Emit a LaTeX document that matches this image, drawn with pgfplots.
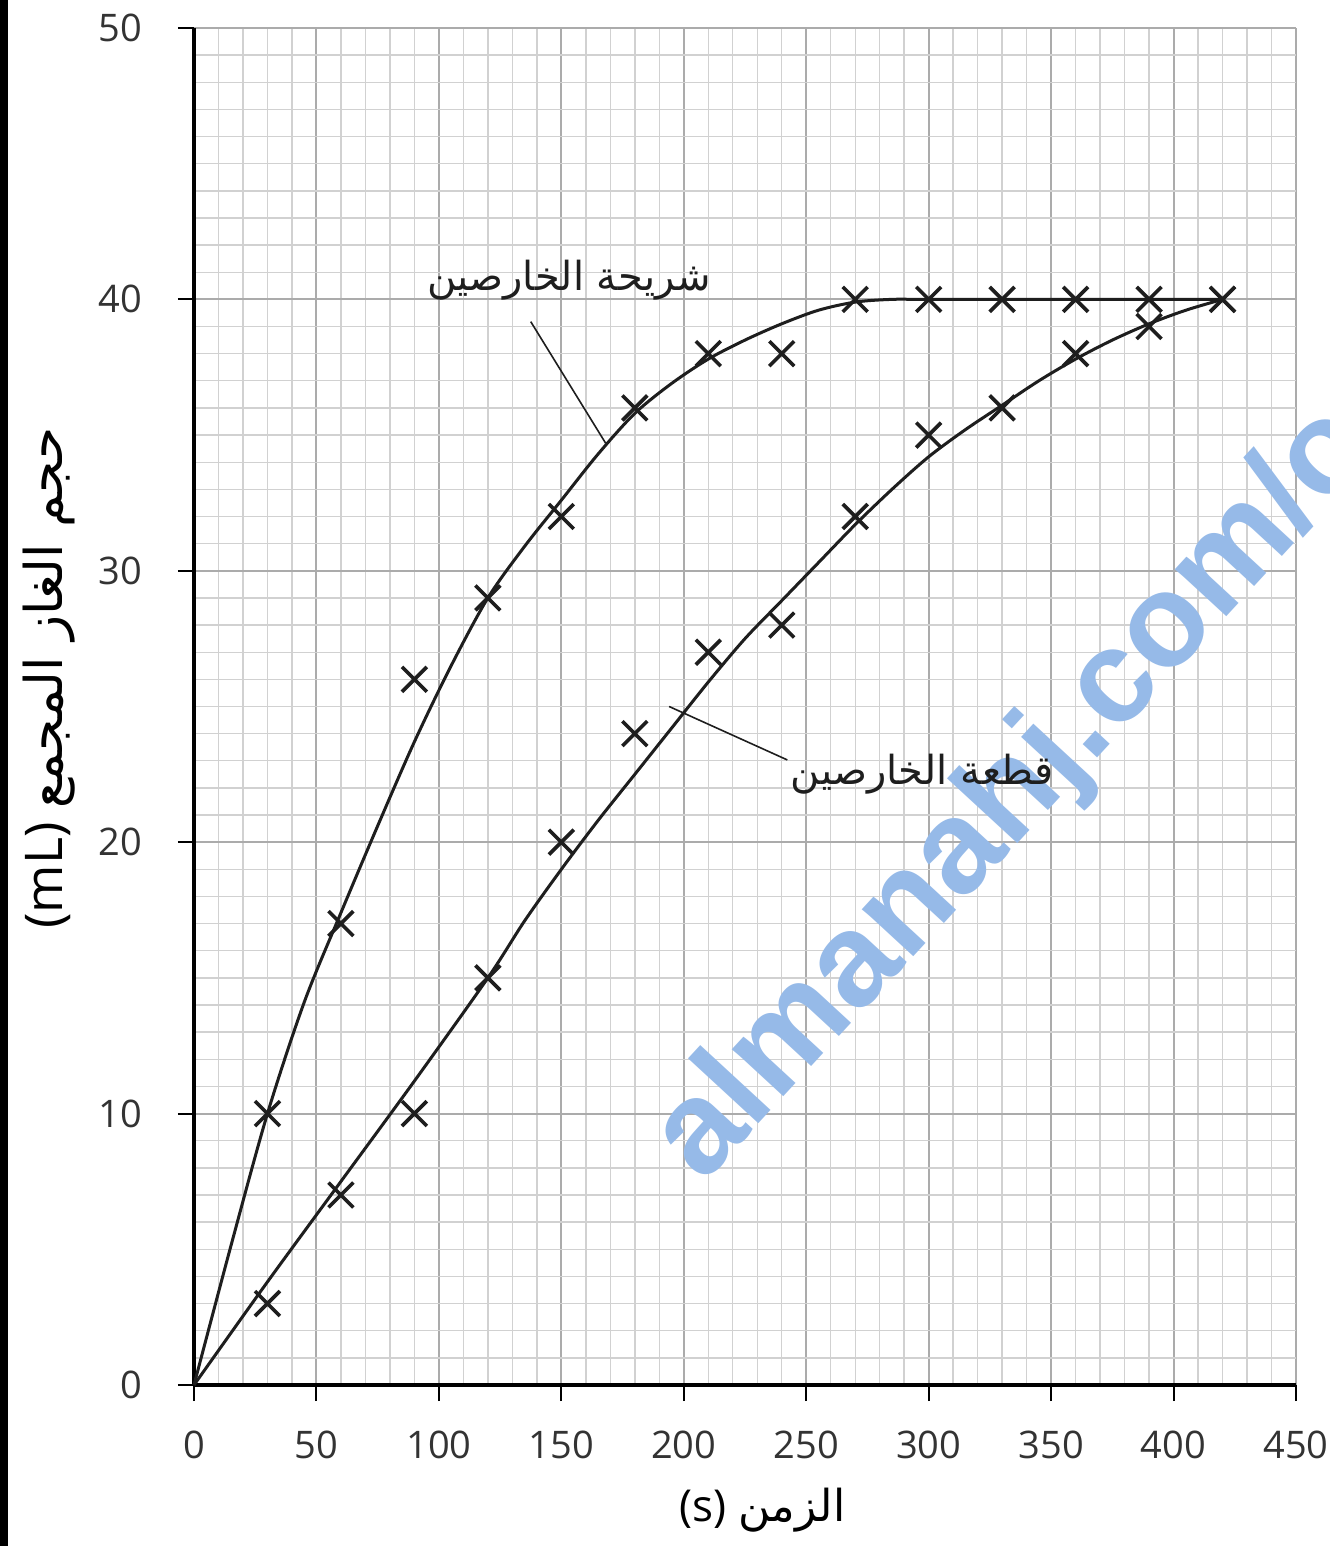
\documentclass[border=0pt]{standalone}
\usepackage{pgfplots}
\pgfplotsset{compat=1.18}
\usepackage{fontspec}
\setmainfont{Open Sans}
\newfontfamily\arabicfont[Script=Arabic]{DejaVu Sans}
\newfontfamily\wmfont{Liberation Sans}
\TeXXeTstate=1
\definecolor{wmblue}{RGB}{150,186,232}
\definecolor{inkc}{RGB}{30,30,30}
\begin{document}
\begin{tikzpicture}
\begin{axis}[
  scale only axis,
  width=275.5pt, height=339.25pt,
  xmin=0, xmax=450, ymin=0, ymax=50,
  axis lines*=left,
  axis line style={line width=1pt, black},
  xtick={0,50,...,450}, ytick={0,10,...,50},
  minor x tick num=4, minor y tick num=9,
  grid=both,
  major grid style={draw=black!33, line width=0.5pt},
  minor grid style={draw=black!18, line width=0.35pt},
  tick align=outside,
  major tick length=4pt,
  minor tick length=0pt,
  tick style={black, line width=0.5pt},
  /pgf/number format/assume math mode=true,
  ticklabel style={font=\fontsize{9.5}{11}\selectfont, text=black!80},
  yticklabel style={xshift=-5.5pt},
  xticklabel style={yshift=-4pt},
  clip=false,
  xlabel={(s) {\arabicfont\beginR الزمن\endR}},
  ylabel={(mL) {\arabicfont\beginR حجم الغاز المجمع\endR}},
  every axis x label/.style={at={(axis description cs:0.516,-0.092)}, anchor=center, font=\fontsize{11}{13}\selectfont},
  every axis y label/.style={at={(axis description cs:-0.1316,0.521)}, anchor=center, rotate=90, font=\fontsize{13}{15}\selectfont},
]
% watermark
\node[overlay, rotate=47.3, anchor=base west, text=wmblue, font=\wmfont\bfseries\fontsize{33}{36}\selectfont] at (axis cs:204,7.0) {almanahj.com/o};

% fitted curves
\addplot[smooth, line width=0.75pt, inkc] coordinates {
(0,0)(15,5.1)(30,10)(45,14.1)(60,17.4)(75,20.6)(90,23.7)(105,26.5)(120,29.0)(135,30.9)(150,32.6)(165,34.3)(180,35.8)(195,36.9)(210,37.8)(225,38.5)(240,39.1)(255,39.6)(270,39.9)(285,40)(300,40)(360,40)(420,40)};
\addplot[smooth, line width=0.75pt, inkc] coordinates {
(0,0)(30,3.8)(60,7.5)(90,11.2)(120,15.0)(135,17.1)(150,19.0)(165,20.8)(180,22.5)(195,24.2)(210,25.9)(225,27.5)(240,28.9)(255,30.3)(270,31.7)(285,33.0)(300,34.2)(315,35.2)(330,36.1)(345,37.0)(360,37.8)(375,38.5)(390,39.1)(405,39.6)(420,40)};

% measured points
\addplot[only marks, mark=x, mark size=4.4pt, mark options={line width=0.9pt, inkc}] coordinates {
(30,10)(60,17)(90,26)(120,29)(150,32)(180,36)(210,38)(240,38)(270,40)(300,40)(330,40)(360,40)(390,40)(420,40)};
\addplot[only marks, mark=x, mark size=4.4pt, mark options={line width=0.9pt, inkc}] coordinates {
(30,3)(60,7)(90,10)(120,15)(150,20)(180,24)(210,27)(240,28)(270,32)(300,35)(330,36)(360,38)(390,39)(420,40)};

% annotations
\draw[line width=0.4pt, inkc] (axis cs:137.5,39.18) -- (axis cs:168.1,34.7);
\draw[line width=0.4pt, inkc] (axis cs:194,25.0) -- (axis cs:242.3,23.03);
\node[font=\arabicfont\fontsize{10}{12}\selectfont, text=inkc] at (axis cs:153.1,40.7) {\beginR شريحة الخارصين\endR};
\node[font=\arabicfont\fontsize{10}{12}\selectfont, text=inkc] at (axis cs:297.3,22.5) {\beginR قطعة الخارصين\endR};
\end{axis}
\fill[black] ([shift={(-48.5pt,-40.25pt)}]current axis.south west) rectangle ([shift={(-46.5pt,7pt)}]current axis.north west);
\pgfresetboundingbox
\path[use as bounding box] ([shift={(-48.5pt,-40.25pt)}]current axis.south west) rectangle ([shift={(8.5pt,7pt)}]current axis.north east);
\end{tikzpicture}
\end{document}
